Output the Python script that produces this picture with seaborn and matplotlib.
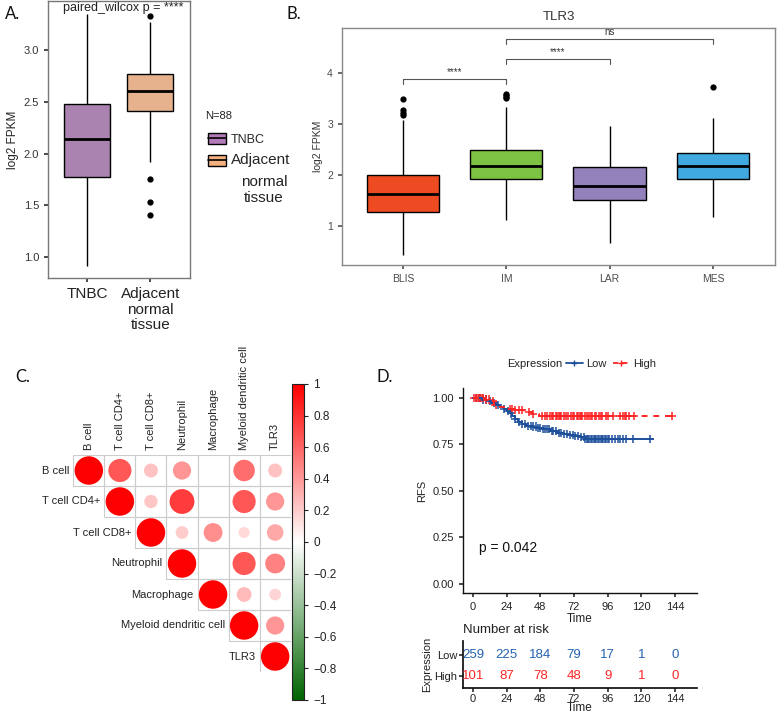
import numpy as np
import pandas as pd
import matplotlib
matplotlib.use("Agg")
import matplotlib.pyplot as plt
import seaborn as sns
from matplotlib.colors import LinearSegmentedColormap, Normalize
from matplotlib.cm import ScalarMappable
from matplotlib.patches import Patch, Rectangle
from matplotlib.lines import Line2D

sns.set_theme(style="white")
plt.rcParams['font.family'] = ['Liberation Sans', 'DejaVu Sans']
plt.rcParams['axes.unicode_minus'] = True

W, H = 777, 714

# ---------------- data ----------------
# panel A: paired boxplot (summary values)
a_groups = ["TNBC", "Adjacent normal tissue"]
a_colors = ["#B07BB8", "#F4B07E"]
a_stats = {  # whisker low, q1, median, q3, whisker high
    "TNBC": [0.92, 1.77, 2.14, 2.48, 3.34],
    "Adjacent normal tissue": [1.92, 2.41, 2.60, 2.77, 3.27],
}
a_outliers = {"TNBC": [], "Adjacent normal tissue": [1.75, 1.53, 1.41, 3.33]}

# panel B: TLR3 by subtype
b_groups = ["BLIS", "IM", "LAR", "MES"]
b_colors = ["#EE4B22", "#7DC242", "#9381BB", "#3FA9E0"]
b_stats = {
    "BLIS": [0.44, 1.28, 1.63, 2.00, 3.08],
    "IM": [1.13, 1.93, 2.18, 2.50, 3.33],
    "LAR": [0.67, 1.51, 1.78, 2.16, 2.96],
    "MES": [1.18, 1.93, 2.18, 2.44, 3.11],
}
b_outliers = {"BLIS": [3.49, 3.28, 3.22, 3.18], "IM": [3.59, 3.56, 3.53, 3.50],
              "LAR": [], "MES": [3.72]}
b_comparisons = [("BLIS", "IM", 3.89, "****"), ("IM", "LAR", 4.28, "****"), ("IM", "MES", 4.67, "ns")]

# panel C: correlation matrix (upper triangle, None = blank)
cell_types = ["B cell", "T cell CD4+", "T cell CD8+", "Neutrophil", "Macrophage",
              "Myeloid dendritic cell", "TLR3"]
corr_rows = [
    [1.00, 0.66, 0.24, 0.41, None, 0.57, 0.24],
    [1.00, 0.22, 0.76, None, 0.66, 0.41],
    [1.00, 0.20, 0.44, 0.15, 0.34],
    [1.00, None, 0.66, 0.49],
    [1.00, 0.27, 0.17],
    [1.00, 0.41],
    [1.00],
]

# panel D: Kaplan-Meier
low_times = [0, 6, 10, 13, 16, 19, 22, 24, 26, 28, 30, 32, 35, 38, 42, 46, 50, 55, 60, 64, 68, 72, 76, 80, 128]
low_surv = [1.0, 0.99, 0.98, 0.97, 0.96, 0.95, 0.94, 0.93, 0.915, 0.90, 0.885, 0.87, 0.86, 0.85, 0.845,
            0.835, 0.83, 0.82, 0.81, 0.805, 0.80, 0.795, 0.79, 0.78, 0.78]
high_times = [0, 8, 12, 15, 19, 24, 30, 36, 42, 47, 142]
high_surv = [1.0, 0.99, 0.98, 0.96, 0.95, 0.94, 0.935, 0.925, 0.91, 0.90, 0.90]
low_censor = [2, 4, 5, 7, 9, 12, 15, 18, 22, 25, 27, 30, 33, 35, 37, 39, 41, 43, 45, 46, 48, 50, 51, 53,
              54, 56, 57, 59, 61, 63, 65, 67, 69, 71, 73, 75, 77, 79, 80, 81, 82, 83, 84, 85, 86, 87, 88,
              89, 90, 91, 92, 93, 94, 95, 96, 97, 99, 101, 103, 105, 107, 109, 114, 126]
high_censor = [1, 2, 3, 4, 5, 6, 7, 9, 11, 14, 16, 26, 28, 30, 33, 35, 40, 43, 49, 51, 53, 55, 56, 57,
               59, 60, 61, 62, 63, 65, 66, 68, 70, 71, 72, 74, 75, 76, 77, 78, 80, 81, 83, 84, 85, 87,
               88, 90, 91, 92, 95, 96, 100, 105, 107, 108, 109, 111, 115, 142]
risk_times = [0, 24, 48, 72, 96, 120, 144]
risk_low = [259, 225, 184, 79, 17, 1, 0]
risk_high = [101, 87, 78, 48, 9, 1, 0]
low_color = "#1D4F9B"
high_color = "#FF2424"


def px_axes(fig, left, top, right, bottom):
    return fig.add_axes([left / W, 1 - bottom / H, (right - left) / W, (bottom - top) / H])


def stats_frame(stats, order):
    rows = []
    for g in order:
        for v in stats[g]:
            rows.append({"group": g, "value": v})
    return pd.DataFrame(rows)


def outlier_frame(outliers, order):
    rows = [{"group": g, "value": v} for g in order for v in outliers[g]]
    return pd.DataFrame(rows, columns=["group", "value"])


fig = plt.figure(figsize=(W / 100, H / 100), dpi=100)
label_font = dict(family=['Lato', 'DejaVu Sans'], fontsize=12, color="#111111")

# ---------------- panel A ----------------
axA = px_axes(fig, 48, 1, 190, 278)
sns.boxplot(data=stats_frame(a_stats, a_groups), x="group", y="value", hue="group", order=a_groups,
            palette=a_colors, whis=(0, 100), showfliers=False, width=0.73, linecolor="black",
            linewidth=1.0, showcaps=False, medianprops={"linewidth": 2}, legend=False, ax=axA)
sns.stripplot(data=outlier_frame(a_outliers, a_groups), x="group", y="value", order=a_groups,
              jitter=False, color="black", size=4.5, ax=axA)
axA.set_xlim(-0.62, 1.63)
axA.set_ylim(0.8, 3.47)
axA.set_yticks([1.0, 1.5, 2.0, 2.5, 3.0])
axA.set_yticklabels(["1.0", "1.5", "2.0", "2.5", "3.0"], fontsize=8, color="#333333")
axA.set_xticks([0, 1])
axA.set_xticklabels(["TNBC", "Adjacent\nnormal\ntissue"], fontsize=11, color="#222222",
                    linespacing=1.15)
axA.tick_params(axis="both", length=3, color="#333333", bottom=True, left=True)
axA.set_xlabel("")
axA.set_ylabel("log2 FPKM", fontsize=8.5, color="#222222", labelpad=3)
for s in axA.spines.values():
    s.set_color("#777777")
    s.set_linewidth(1)
axA.text(0.53, 0.995, "paired_wilcox p = ****", transform=axA.transAxes, ha="center", va="top",
         fontsize=9, color="#222222")
handles_a = [(Patch(facecolor=c, edgecolor="black", linewidth=1), Line2D([], [], color="black", lw=1.2))
             for c in a_colors]
legA = fig.legend(handles_a, ["TNBC", "Adjacent"], loc="upper left",
                  bbox_to_anchor=(208 / W, 1 - 133 / H), frameon=False, fontsize=9,
                  handlelength=1.4, handleheight=0.95, handletextpad=0.45, labelspacing=0.62,
                  borderpad=0, borderaxespad=0)
legA.get_texts()[1].set_fontsize(11)
fig.text(205 / W, 1 - 116 / H, "N=88", fontsize=8, color="#222222", va="center")
fig.text(264 / W, 1 - 190 / H, "normal\ntissue", fontsize=11, color="#222222", ha="center",
         va="center", linespacing=1.15)
fig.text(5 / W, 1 - 14 / H, "A.", va="center", **label_font)

# ---------------- panel B ----------------
axB = px_axes(fig, 342, 28, 775, 265)
sns.boxplot(data=stats_frame(b_stats, b_groups), x="group", y="value", hue="group", order=b_groups,
            palette=b_colors, whis=(0, 100), showfliers=False, width=0.70, linecolor="black",
            linewidth=1.0, showcaps=False, medianprops={"linewidth": 2}, legend=False, ax=axB,
            saturation=1)
sns.stripplot(data=outlier_frame(b_outliers, b_groups), x="group", y="value", order=b_groups,
              jitter=False, color="black", size=4.5, ax=axB)
for g1, g2, yb, lab in b_comparisons:
    x1, x2 = b_groups.index(g1), b_groups.index(g2)
    axB.plot([x1, x1, x2, x2], [yb - 0.1, yb, yb, yb - 0.1], color="#555555", lw=0.8)
    axB.text((x1 + x2) / 2, yb + 0.03, lab, ha="center", va="bottom", fontsize=7, color="#333333")
axB.set_xlim(-0.59, 3.6)
axB.set_ylim(0.24, 4.88)
axB.set_yticks([1, 2, 3, 4])
axB.set_yticklabels(["1", "2", "3", "4"], fontsize=7.5, color="#4D4D4D")
axB.set_xticks(range(4))
axB.set_xticklabels(b_groups, fontsize=7.5, color="#4D4D4D")
axB.tick_params(axis="both", length=3, color="#555555", bottom=True, left=True)
axB.set_xlabel("")
axB.set_ylabel("log2 FPKM", fontsize=7.5, color="#333333", labelpad=3)
axB.set_title("TLR3", fontsize=9.5, color="#333333", pad=6)
for s in axB.spines.values():
    s.set_color("#888888")
    s.set_linewidth(1)
fig.text(287 / W, 1 - 14 / H, "B.", va="center", **label_font)

# ---------------- panel C ----------------
axC = px_axes(fig, 73.3, 455, 290.7, 672)
cmap = LinearSegmentedColormap.from_list("corr", ["#006400", "#FFFFFF", "#FF0000"])
rows = []
for i, rv in enumerate(corr_rows):
    for k, r in enumerate(rv):
        j = i + k
        if r is not None:
            rows.append({"row": i, "col": j, "r": r, "size": abs(r)})
df_c = pd.DataFrame(rows)
n = len(cell_types)
for i in range(n):
    for j in range(i, n):
        axC.add_patch(Rectangle((j - 0.5, i - 0.5), 1, 1, fill=False, edgecolor="#CCCCCC", lw=0.8))
sns.scatterplot(data=df_c, x="col", y="row", hue="r", size="size", palette=cmap, hue_norm=(-1, 1),
                sizes=(0, 420), size_norm=(0, 1), edgecolor="none", legend=False, ax=axC)
axC.set_xlim(-0.5, n - 0.5)
axC.set_ylim(n - 0.5, -0.5)
axC.axis("off")
for i, name in enumerate(cell_types):
    axC.text(i - 0.62, i, name, ha="right", va="center", fontsize=8, color="#222222")
    axC.text(i, -0.65, name, ha="center", va="bottom", rotation=90, fontsize=8, color="#222222")
cax = px_axes(fig, 292, 384, 304, 700)
cb = fig.colorbar(ScalarMappable(norm=Normalize(-1, 1), cmap=cmap), cax=cax)
cb.set_ticks([1, 0.8, 0.6, 0.4, 0.2, 0, -0.2, -0.4, -0.6, -0.8, -1])
cb.set_ticklabels(["1", "0.8", "0.6", "0.4", "0.2", "0", "\u22120.2", "\u22120.4", "\u22120.6",
                   "\u22120.8", "\u22121"])
cax.tick_params(labelsize=8.5, length=3, width=0.8, colors="#222222")
cb.outline.set_edgecolor("#222222")
cb.outline.set_linewidth(0.8)
fig.text(15 / W, 1 - 377 / H, "C.", va="center", **label_font)

# ---------------- panel D ----------------
axD = px_axes(fig, 463, 388, 697, 593)
km_rows = []
for g, ts, ss in [("Low", low_times, low_surv), ("High", high_times, high_surv)]:
    for t, s in zip(ts, ss):
        km_rows.append({"time": t, "surv": s, "group": g})
df_km = pd.DataFrame(km_rows)
cens_rows = []
for g, ts, ss, cs in [("Low", low_times, low_surv, low_censor), ("High", high_times, high_surv, high_censor)]:
    for t in cs:
        idx = np.searchsorted(ts, t, side="right") - 1
        cens_rows.append({"time": t, "surv": ss[idx], "group": g})
df_cens = pd.DataFrame(cens_rows)
pal_km = {"Low": low_color, "High": high_color}
sns.lineplot(data=df_km, x="time", y="surv", hue="group", style="group", palette=pal_km,
             dashes={"Low": "", "High": (3, 3)}, drawstyle="steps-post", estimator=None, sort=False,
             legend=False, linewidth=1.4, ax=axD)
sns.scatterplot(data=df_cens, x="time", y="surv", hue="group", palette=pal_km, marker="+", s=34,
                linewidth=1.1, legend=False, ax=axD)
axD.set_xlim(-7.2, 159.7)
axD.set_ylim(-0.05, 1.052)
axD.set_xticks(risk_times)
axD.set_yticks([0, 0.25, 0.5, 0.75, 1.0])
axD.set_yticklabels(["0.00", "0.25", "0.50", "0.75", "1.00"])
axD.tick_params(axis="both", labelsize=8, length=3, color="#333333", labelcolor="#222222",
                bottom=True, left=True)
axD.set_xlabel("Time", fontsize=8.5, color="#222222", labelpad=1)
axD.set_ylabel("RFS", fontsize=8, color="#222222")
for side in ["top", "right"]:
    axD.spines[side].set_visible(False)
for side in ["left", "bottom"]:
    axD.spines[side].set_color("#111111")
    axD.spines[side].set_linewidth(1)
axD.text(4, 0.19, "p = 0.042", fontsize=10, color="#111111", va="center")

fig.text(507 / W, 1 - 364 / H, "Expression", fontsize=8, color="#222222", va="center")
km_handles = [Line2D([], [], color=low_color, marker="+", lw=1.3, markersize=5),
              Line2D([], [], color=high_color, marker="+", lw=1.3, ls=(0, (3, 2)), markersize=5)]
fig.legend(km_handles, ["Low", "High"], loc="center left", bbox_to_anchor=(566 / W, 1 - 364 / H),
           ncol=2, frameon=False, fontsize=8, handlelength=1.5, columnspacing=0.6, handletextpad=0.3,
           borderpad=0, borderaxespad=0)

axR = px_axes(fig, 463, 641, 697, 688)
axR.set_xlim(-7.2, 159.7)
axR.set_ylim(-0.59, 1.68)
for t, lo, hi in zip(risk_times, risk_low, risk_high):
    axR.text(t, 1, str(lo), ha="center", va="center", fontsize=9.5, color="#2563B0")
    axR.text(t, 0, str(hi), ha="center", va="center", fontsize=9.5, color=high_color)
axR.set_yticks([0, 1])
axR.set_yticklabels(["High", "Low"])
axR.set_xticks(risk_times)
axR.tick_params(axis="both", labelsize=8, length=3, pad=1, color="#333333", labelcolor="#222222",
                bottom=True, left=True)
axR.set_xlabel("Time", fontsize=8.5, color="#222222", labelpad=-1)
axR.set_ylabel("Expression", fontsize=8, color="#222222", labelpad=2)
for side in ["top", "right"]:
    axR.spines[side].set_visible(False)
for side in ["left", "bottom"]:
    axR.spines[side].set_color("#111111")
fig.text(463 / W, 1 - 630 / H, "Number at risk", fontsize=9.5, color="#222222", va="center")
fig.text(377 / W, 1 - 377 / H, "D.", va="center", **label_font)

fig.savefig("out.png", dpi=100)
